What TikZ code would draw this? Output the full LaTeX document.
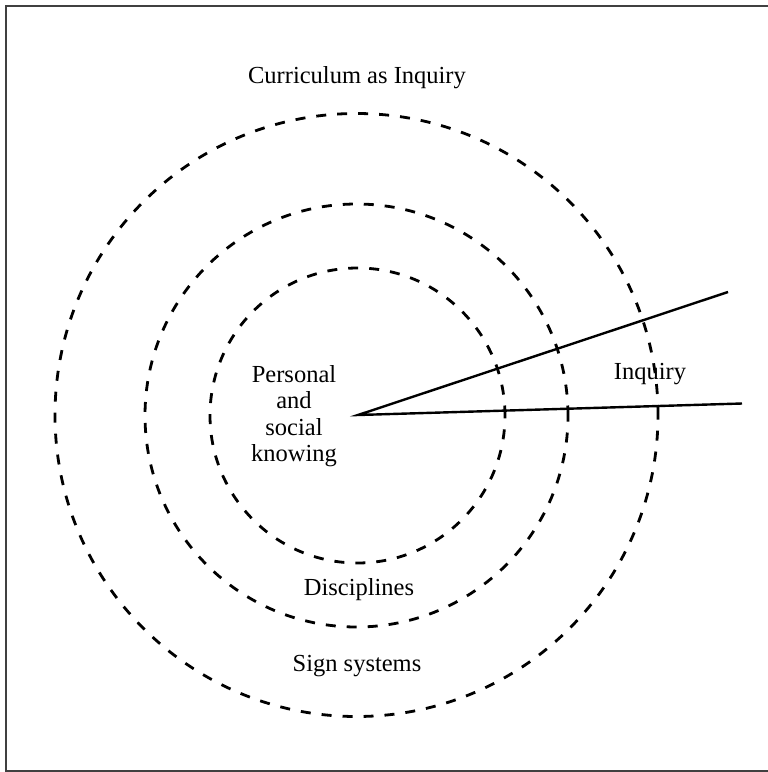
\documentclass[tikz,border=0pt]{standalone}
\usepackage{fontspec}
\setmainfont{Liberation Serif}
\begin{document}
\begin{tikzpicture}[x=1pt,y=-1pt,
  ring/.style={draw=black,circle,line width=2.8pt,dash pattern=on 10pt off 11pt,inner sep=0pt},
  ray/.style={draw=black,line width=2.4pt},
  lbl/.style={font=\fontsize{24.5}{26.5}\selectfont,text=black,align=center,inner sep=0pt}]
\useasboundingbox (0,0) rectangle (768,772);
\draw[line width=2pt,draw=black!75] (5.5,772) -- (5.5,5.5) -- (768,5.5);
\draw[line width=2pt,draw=black!75] (5.5,770.5) -- (768,770.5);
\node[ring,minimum size=603pt] (outer) at (356.5,415) {};
\node[ring,minimum size=423pt] (middle) at (356.5,415.5) {};
\node[ring,minimum size=295pt] (inner) at (357.5,415.5) {};
\coordinate (c) at (358,415);
\coordinate (e1) at (728,292);
\coordinate (e2) at (742,403.5);
\draw[ray] (e1) -- (c) -- (e2);
\node[lbl] (title) at (357,78) {Curriculum as Inquiry};
\node[lbl] (pers) at (294,416) {Personal\\and\\social\\knowing};
\node[lbl] (inq) at (650,374) {Inquiry};
\node[lbl] (disc) at (359,590) {Disciplines};
\node[lbl] (sign) at (357,666) {Sign systems};
\end{tikzpicture}
\end{document}
